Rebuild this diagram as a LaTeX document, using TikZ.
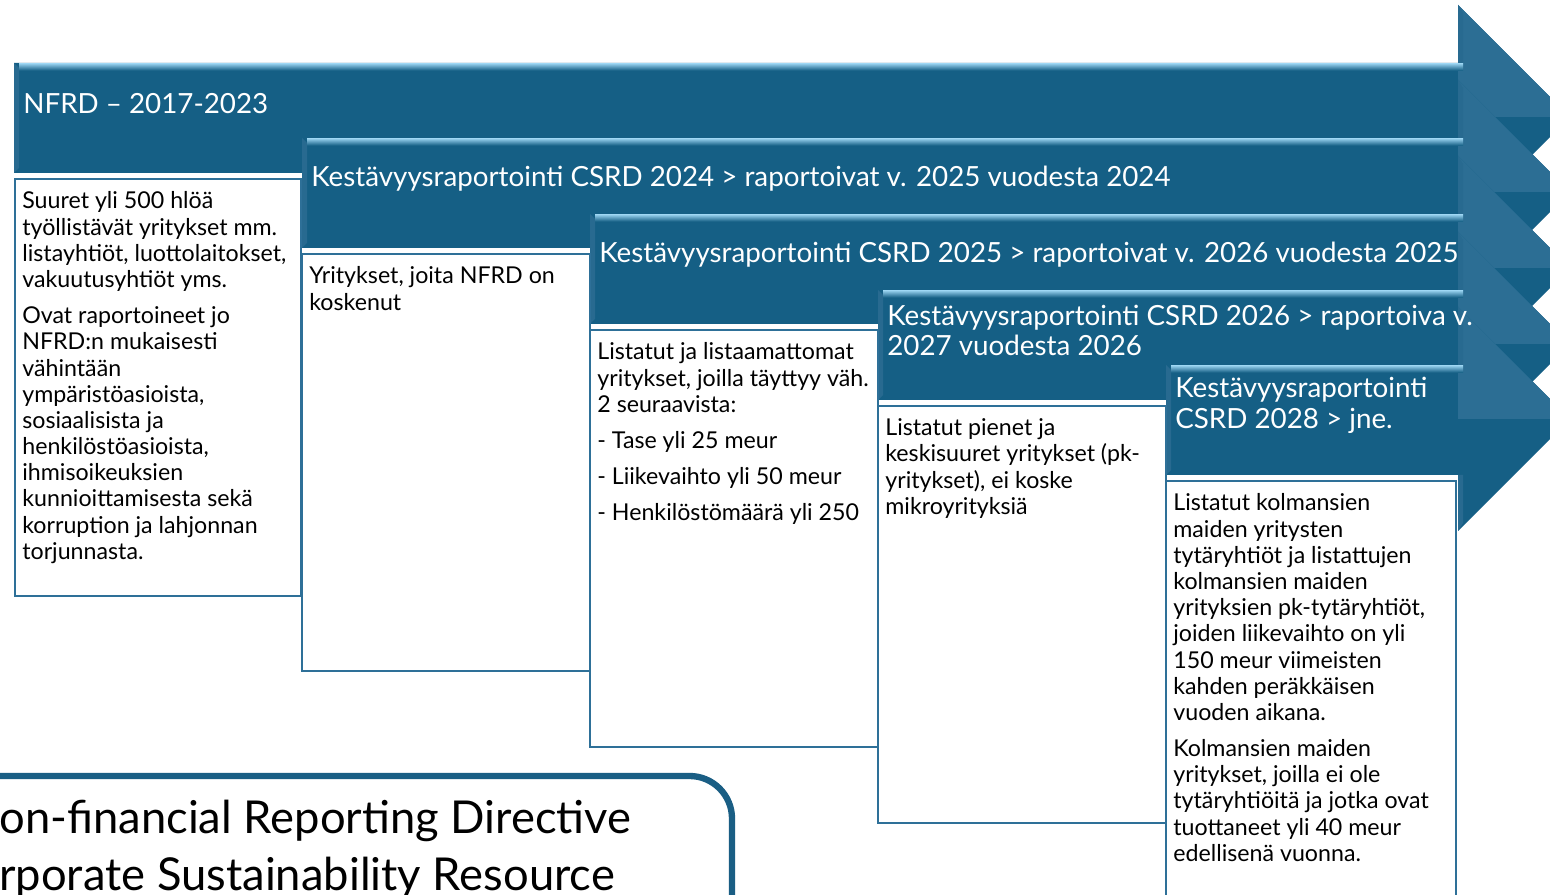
\documentclass[tikz,border=0pt]{standalone}
\usepackage{fontspec}
\setmainfont{Lato}
\newcommand{\bodyfont}{\fontsize{13.2}{14.9}\selectfont}
\newcommand{\headfont}{\fontsize{15.8}{17.3}\selectfont}
\newcommand{\notefont}{\fontsize{25.8}{32.3}\selectfont}
\definecolor{arrowblue}{RGB}{21,95,133}
\definecolor{arrowfacet}{RGB}{44,110,148}
\definecolor{arrowside}{RGB}{40,106,144}
\definecolor{arrowshine}{RGB}{150,208,238}
\definecolor{boxline}{RGB}{46,112,152}
\definecolor{noteline}{RGB}{26,94,132}
\tikzset{
  arrowbody/.style={fill=arrowblue},
  headfacet/.style={fill=arrowfacet},
  sidebevel/.style={fill=arrowside},
  topshine/.style={top color=arrowshine, bottom color=arrowblue},
  infobox/.style={draw=boxline, line width=1.1pt, fill=white, inner sep=0pt, anchor=north west},
  boxtext/.style={font=\bodyfont, align=left, inner sep=0pt, anchor=north west, text=black},
  arrowtitle/.style={font=\headfont, align=left, inner sep=0pt, anchor=west, text=white},
  notebox/.style={draw=noteline, line width=3.6pt, fill=white, rounded corners=0.850cm},
  notetext/.style={font=\notefont, align=left, inner sep=0pt, anchor=west, text=black}
}

\begin{document}
\begin{tikzpicture}
\useasboundingbox (0.000,0.000) rectangle (31.000,17.900);
\clip (0.000,0.000) rectangle (31.000,17.900);
\fill[white] (0.000,0.000) rectangle (31.000,17.900);
% arrows
\begin{scope}[shift={(0.000,16.640)}]
\fill[arrowbody] (0.280,0.000) -- (29.160,0.000) -- (29.160,1.160) -- (31.400,-1.080) -- (29.160,-3.320) -- (29.160,-2.200) -- (0.280,-2.200) -- cycle;
\fill[headfacet] (29.160,1.160) -- (31.400,-1.080) -- (29.160,-1.080) -- cycle;
\fill[sidebevel] (0.280,0.000) -- (0.380,-0.100) -- (0.380,-2.100) -- (0.280,-2.200) -- cycle;
\fill[sidebevel] (29.160,1.160) -- (29.260,1.000) -- (29.260,0.000) -- (29.160,0.000) -- cycle;
\fill[sidebevel] (29.160,-2.200) -- (29.260,-2.200) -- (29.260,-3.160) -- (29.160,-3.320) -- cycle;
\shade[topshine] (0.380,-0.010) rectangle (29.260,-0.150);
\end{scope}
\begin{scope}[shift={(0.000,15.140)}]
\fill[arrowbody] (6.040,0.000) -- (29.160,0.000) -- (29.160,1.160) -- (31.400,-1.080) -- (29.160,-3.320) -- (29.160,-2.200) -- (6.040,-2.200) -- cycle;
\fill[headfacet] (29.160,1.160) -- (31.400,-1.080) -- (29.160,-1.080) -- cycle;
\fill[sidebevel] (6.040,0.000) -- (6.140,-0.100) -- (6.140,-2.100) -- (6.040,-2.200) -- cycle;
\fill[sidebevel] (29.160,1.160) -- (29.260,1.000) -- (29.260,0.000) -- (29.160,0.000) -- cycle;
\fill[sidebevel] (29.160,-2.200) -- (29.260,-2.200) -- (29.260,-3.160) -- (29.160,-3.320) -- cycle;
\shade[topshine] (6.140,-0.010) rectangle (29.260,-0.150);
\end{scope}
\begin{scope}[shift={(0.000,13.620)}]
\fill[arrowbody] (11.800,0.000) -- (29.160,0.000) -- (29.160,1.160) -- (31.400,-1.080) -- (29.160,-3.320) -- (29.160,-2.200) -- (11.800,-2.200) -- cycle;
\fill[headfacet] (29.160,1.160) -- (31.400,-1.080) -- (29.160,-1.080) -- cycle;
\fill[sidebevel] (11.800,0.000) -- (11.900,-0.100) -- (11.900,-2.100) -- (11.800,-2.200) -- cycle;
\fill[sidebevel] (29.160,1.160) -- (29.260,1.000) -- (29.260,0.000) -- (29.160,0.000) -- cycle;
\fill[sidebevel] (29.160,-2.200) -- (29.260,-2.200) -- (29.260,-3.160) -- (29.160,-3.320) -- cycle;
\shade[topshine] (11.900,-0.010) rectangle (29.260,-0.150);
\end{scope}
\begin{scope}[shift={(0.000,12.100)}]
\fill[arrowbody] (17.560,0.000) -- (29.160,0.000) -- (29.160,1.160) -- (31.400,-1.080) -- (29.160,-3.320) -- (29.160,-2.200) -- (17.560,-2.200) -- cycle;
\fill[headfacet] (29.160,1.160) -- (31.400,-1.080) -- (29.160,-1.080) -- cycle;
\fill[sidebevel] (17.560,0.000) -- (17.660,-0.100) -- (17.660,-2.100) -- (17.560,-2.200) -- cycle;
\fill[sidebevel] (29.160,1.160) -- (29.260,1.000) -- (29.260,0.000) -- (29.160,0.000) -- cycle;
\fill[sidebevel] (29.160,-2.200) -- (29.260,-2.200) -- (29.260,-3.160) -- (29.160,-3.320) -- cycle;
\shade[topshine] (17.660,-0.010) rectangle (29.260,-0.150);
\end{scope}
\begin{scope}[shift={(0.000,10.600)}]
\fill[arrowbody] (23.320,0.000) -- (29.160,0.000) -- (29.160,1.160) -- (31.400,-1.080) -- (29.160,-3.320) -- (29.160,-2.200) -- (23.320,-2.200) -- cycle;
\fill[headfacet] (29.160,1.160) -- (31.400,-1.080) -- (29.160,-1.080) -- cycle;
\fill[sidebevel] (23.320,0.000) -- (23.420,-0.100) -- (23.420,-2.100) -- (23.320,-2.200) -- cycle;
\fill[sidebevel] (29.160,1.160) -- (29.260,1.000) -- (29.260,0.000) -- (29.160,0.000) -- cycle;
\fill[sidebevel] (29.160,-2.200) -- (29.260,-2.200) -- (29.260,-3.160) -- (29.160,-3.320) -- cycle;
\shade[topshine] (23.420,-0.010) rectangle (29.260,-0.150);
\end{scope}
% arrow titles
\node[arrowtitle] (nfrd) at (0.460,15.830) {NFRD – 2017-2023};
\node[arrowtitle] (csrd24) at (6.220,14.330) {Kestävyysraportointi CSRD 2024 > raportoivat v. 2025 vuodesta 2024};
\node[arrowtitle] (csrd25) at (11.980,12.810) {Kestävyysraportointi CSRD 2025 > raportoivat v. 2026 vuodesta 2025};
\node[arrowtitle] (csrd26) at (17.740,11.290) {Kestävyysraportointi CSRD 2026 > raportoiva v.\\ 2027 vuodesta 2026};
\node[arrowtitle] (csrd28) at (23.500,9.790) {Kestävyysraportointi\\ CSRD 2028 > jne.};
% boxes
\node[infobox, minimum width=5.720cm, minimum height=8.340cm] (nfrdbox) at (0.280,14.340) {};
\node[infobox, minimum width=5.760cm, minimum height=8.340cm] (csrd24box) at (6.020,12.840) {};
\node[infobox, minimum width=5.760cm, minimum height=8.340cm] (csrd25box) at (11.780,11.320) {};
\node[infobox, minimum width=5.760cm, minimum height=8.340cm] (csrd26box) at (17.540,9.800) {};
\node[infobox, minimum width=5.800cm, minimum height=8.340cm] (csrd28box) at (23.300,8.300) {};
\node[boxtext] (nfrdtext) at ([shift={(0.160,-0.270)}]nfrdbox.north west) {Suuret yli 500 hlöä\\ työllistävät yritykset mm.\\ listayhtiöt, luottolaitokset,\\ vakuutusyhtiöt yms.\\[5.7pt] Ovat raportoineet jo\\ NFRD:n mukaisesti\\ vähintään\\ ympäristöasioista,\\ sosiaalisista ja\\ henkilöstöasioista,\\ ihmisoikeuksien\\ kunnioittamisesta sekä\\ korruption ja lahjonnan\\ torjunnasta.};
\node[boxtext] (csrd24text) at ([shift={(0.160,-0.270)}]csrd24box.north west) {Yritykset, joita NFRD on\\ koskenut};
\node[boxtext] (csrd25text) at ([shift={(0.160,-0.270)}]csrd25box.north west) {Listatut ja listaamattomat\\ yritykset, joilla täyttyy väh.\\ 2 seuraavista:\\[5.7pt] - Tase yli 25 meur\\[5.7pt] - Liikevaihto yli 50 meur\\[5.7pt] - Henkilöstömäärä yli 250};
\node[boxtext] (csrd26text) at ([shift={(0.160,-0.270)}]csrd26box.north west) {Listatut pienet ja\\ keskisuuret yritykset (pk-\\ yritykset), ei koske\\ mikroyrityksiä};
\node[boxtext] (csrd28text) at ([shift={(0.160,-0.270)}]csrd28box.north west) {Listatut kolmansien\\ maiden yritysten\\ tytäryhtiöt ja listattujen\\ kolmansien maiden\\ yrityksien pk-tytäryhtiöt,\\ joiden liikevaihto on yli\\ 150 meur viimeisten\\ kahden peräkkäisen\\ vuoden aikana.\\[5.7pt] Kolmansien maiden\\ yritykset, joilla ei ole\\ tytäryhtiöitä ja jotka ovat\\ tuottaneet yli 40 meur\\ edellisenä vuonna.};
% note box
\draw[notebox] (-1.000,-1.000) rectangle (14.640,2.380);
\node[notetext] (note) at (-0.020,0.910) {on-financial Reporting Directive\\ rporate Sustainability Resource};
\end{tikzpicture}
\end{document}
